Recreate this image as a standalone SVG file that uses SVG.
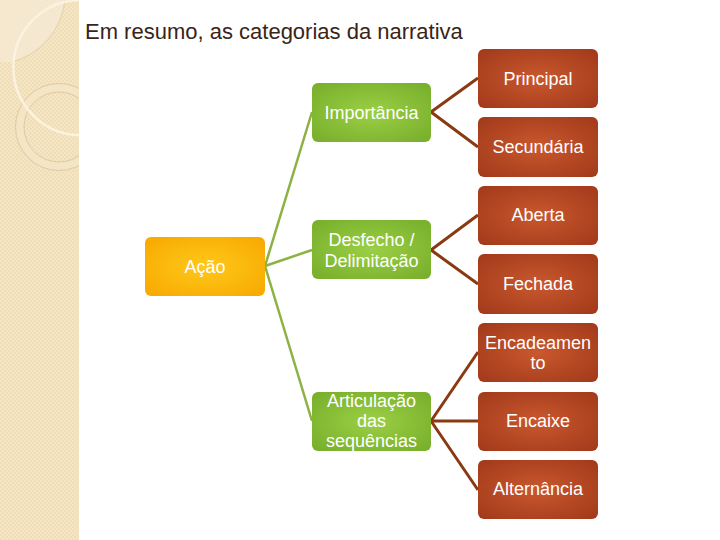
<svg xmlns="http://www.w3.org/2000/svg" width="720" height="540" viewBox="0 0 720 540">
<defs>
<pattern id="chk" width="4" height="4" patternUnits="userSpaceOnUse">
<rect width="4" height="4" fill="#F0DDB4"/>
<rect width="2" height="2" fill="#F4E6C6"/>
<rect x="2" y="2" width="2" height="2" fill="#F4E6C6"/>
</pattern>
<radialGradient id="gOr" cx="50%" cy="50%" r="70%">
<stop offset="0" stop-color="#FFC81A"/>
<stop offset="1" stop-color="#F7A800"/>
</radialGradient>
<radialGradient id="gGr" cx="50%" cy="50%" r="70%">
<stop offset="0" stop-color="#9BCF45"/>
<stop offset="1" stop-color="#76AD2A"/>
</radialGradient>
<radialGradient id="gBr" cx="50%" cy="50%" r="70%">
<stop offset="0" stop-color="#C9582E"/>
<stop offset="1" stop-color="#A1391A"/>
</radialGradient>
<clipPath id="strip"><rect x="0" y="0" width="79" height="540"/></clipPath>
</defs>
<style>
.t{font-family:"Liberation Sans",Arial,sans-serif;font-size:18px;fill:#FFFFFF;text-anchor:middle}
.or{fill:url(#gOr)}
.gr{fill:url(#gGr)}
.br{fill:url(#gBr)}
.cg{stroke:#8DB143;stroke-width:2.5;fill:none}
.cb{stroke:#8A3A12;stroke-width:3;fill:none}
</style>
<rect width="720" height="540" fill="#FFFFFF"/>
<g id="decor" clip-path="url(#strip)">
<rect x="0" y="0" width="79" height="540" fill="url(#chk)"/>
<path d="M0 0 H65 A72 72 0 0 1 12 62 H0 Z" fill="#F5E9D2" opacity="0.85"/>
<path d="M65 0 A72 72 0 0 1 12 62" fill="none" stroke="#DCC7A0" stroke-width="0.7"/>
<circle cx="59" cy="127" r="39.2" fill="none" stroke="#F4E5C4" stroke-width="8.5"/>
<circle cx="59" cy="127" r="43.5" fill="none" stroke="#D8C39A" stroke-width="0.8"/>
<circle cx="59" cy="127" r="35" fill="none" stroke="#D8C39A" stroke-width="0.8"/>
<circle cx="81" cy="67.5" r="67.6" fill="none" stroke="#FBF2DF" stroke-width="2.5"/>
</g>
<text x="85" y="39" font-family="Liberation Sans, Arial, sans-serif" font-size="22" fill="#3A2418">Em resumo, as categorias da narrativa</text>
<g id="connectors">
<line class="cg" x1="265" y1="266" x2="312" y2="112"/>
<line class="cg" x1="265" y1="266" x2="312" y2="250"/>
<line class="cg" x1="265" y1="266" x2="312" y2="421"/>
<line class="cb" x1="431" y1="112" x2="478" y2="78"/>
<line class="cb" x1="431" y1="112" x2="478" y2="147"/>
<line class="cb" x1="431" y1="250" x2="478" y2="215"/>
<line class="cb" x1="431" y1="250" x2="478" y2="284"/>
<line class="cb" x1="431" y1="421" x2="478" y2="352"/>
<line class="cb" x1="431" y1="421" x2="478" y2="421"/>
<line class="cb" x1="431" y1="421" x2="478" y2="490"/>
</g>
<g id="acao"><rect class="or" x="145" y="237" width="120" height="59" rx="6"/><text class="t" x="205" y="273" fill="#FFF6DC">Ação</text></g>
<g id="importancia"><rect class="gr" x="312" y="83" width="119" height="59" rx="6"/><text class="t" x="371.5" y="119">Importância</text></g>
<g id="desfecho"><rect class="gr" x="312" y="220" width="119" height="59" rx="6"/><text class="t" x="371.5" y="246">Desfecho /</text><text class="t" x="371.5" y="267">Delimitação</text></g>
<g id="articulacao"><rect class="gr" x="312" y="392" width="119" height="59" rx="6"/><text class="t" x="371.5" y="407">Articulação</text><text class="t" x="371.5" y="427">das</text><text class="t" x="371.5" y="447">sequências</text></g>
<g id="principal"><rect class="br" x="478" y="49" width="120" height="59" rx="6"/><text class="t" x="538" y="85">Principal</text></g>
<g id="secundaria"><rect class="br" x="478" y="117" width="120" height="60" rx="6"/><text class="t" x="538" y="153">Secundária</text></g>
<g id="aberta"><rect class="br" x="478" y="186" width="120" height="59" rx="6"/><text class="t" x="538" y="221">Aberta</text></g>
<g id="fechada"><rect class="br" x="478" y="254" width="120" height="60" rx="6"/><text class="t" x="538" y="290">Fechada</text></g>
<g id="encadeamento"><rect class="br" x="478" y="323" width="120" height="59" rx="6"/><text class="t" x="538" y="349">Encadeamen</text><text class="t" x="538" y="369">to</text></g>
<g id="encaixe"><rect class="br" x="478" y="392" width="120" height="59" rx="6"/><text class="t" x="538" y="427">Encaixe</text></g>
<g id="alternancia"><rect class="br" x="478" y="460" width="120" height="59" rx="6"/><text class="t" x="538" y="495">Alternância</text></g>
</svg>
